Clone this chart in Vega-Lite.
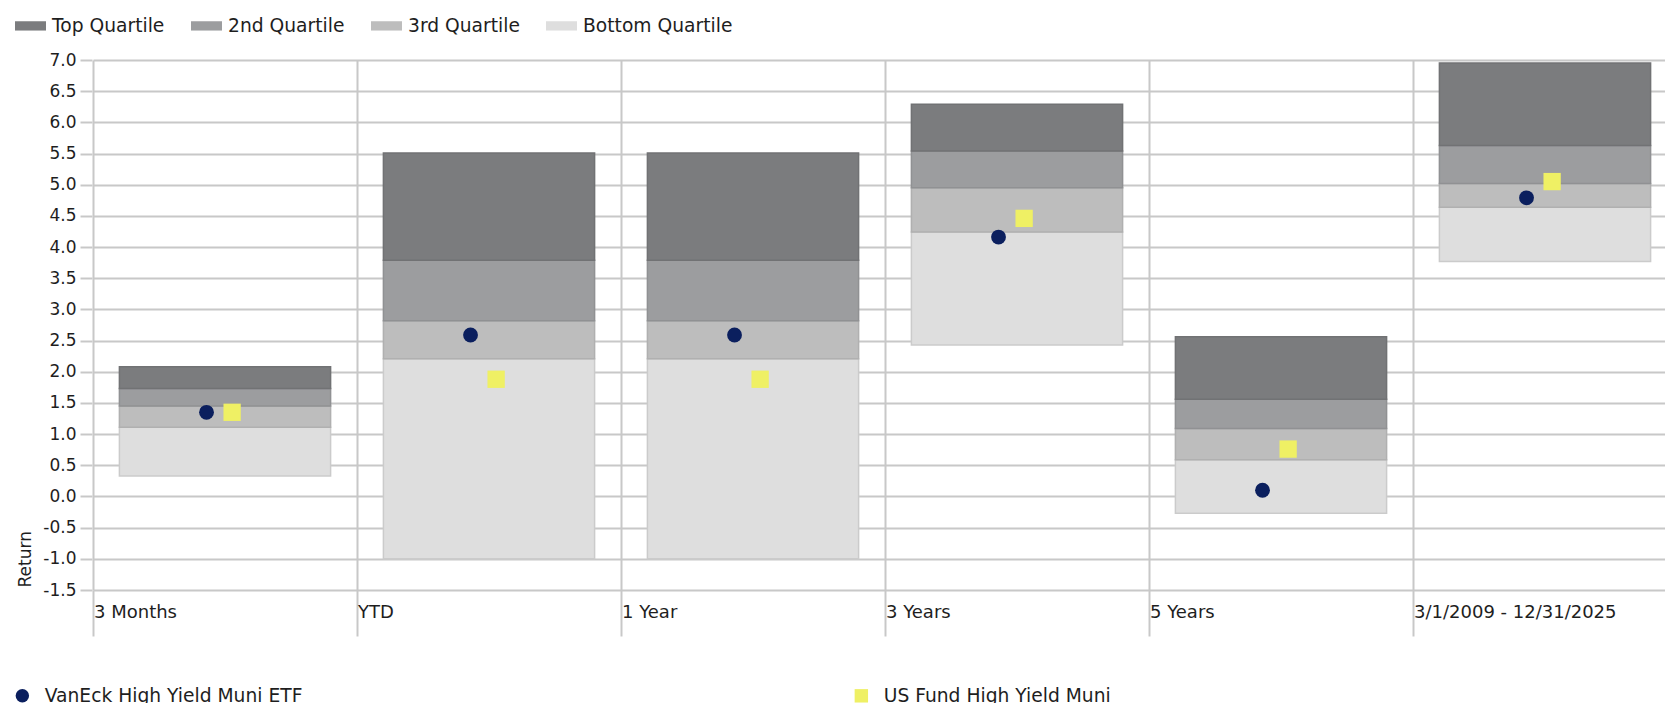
{
  "$schema": "https://vega.github.io/schema/vega-lite/v6.json",
  "width": 1573,
  "height": 530,
  "autosize": {"type": "none"},
  "padding": {"left": 92, "top": 60, "right": 0, "bottom": 113},
  "background": "white",
  "config": {
    "font": "DejaVu Sans",
    "view": {"stroke": null},
    "axis": {"labelFont": "DejaVu Sans", "labelColor": "#1e1e1e", "gridColor": "#c8c8c8", "gridWidth": 2, "tickColor": "#c8c8c8", "tickWidth": 2, "domain": false, "titleFont": "DejaVu Sans", "titleColor": "#1e1e1e", "labelOverlap": false, "labelLimit": 400},
    "axisY": {"labelOverlap": false},
    "legend": {"labelFont": "DejaVu Sans", "labelFontSize": 18.7, "labelColor": "#1e1e1e", "labelLimit": 600}
  },
  "datasets": {
    "quartiles": [
      {"period": "3 Months", "quartile": "Bottom Quartile", "low": 0.33, "high": 1.11},
      {"period": "3 Months", "quartile": "3rd Quartile", "low": 1.11, "high": 1.45},
      {"period": "3 Months", "quartile": "2nd Quartile", "low": 1.45, "high": 1.73},
      {"period": "3 Months", "quartile": "Top Quartile", "low": 1.73, "high": 2.08},
      {"period": "YTD", "quartile": "Bottom Quartile", "low": -1.0, "high": 2.21},
      {"period": "YTD", "quartile": "3rd Quartile", "low": 2.21, "high": 2.82},
      {"period": "YTD", "quartile": "2nd Quartile", "low": 2.82, "high": 3.79},
      {"period": "YTD", "quartile": "Top Quartile", "low": 3.79, "high": 5.51},
      {"period": "1 Year", "quartile": "Bottom Quartile", "low": -1.0, "high": 2.21},
      {"period": "1 Year", "quartile": "3rd Quartile", "low": 2.21, "high": 2.82},
      {"period": "1 Year", "quartile": "2nd Quartile", "low": 2.82, "high": 3.79},
      {"period": "1 Year", "quartile": "Top Quartile", "low": 3.79, "high": 5.51},
      {"period": "3 Years", "quartile": "Bottom Quartile", "low": 2.43, "high": 4.24},
      {"period": "3 Years", "quartile": "3rd Quartile", "low": 4.24, "high": 4.95},
      {"period": "3 Years", "quartile": "2nd Quartile", "low": 4.95, "high": 5.54},
      {"period": "3 Years", "quartile": "Top Quartile", "low": 5.54, "high": 6.29},
      {"period": "5 Years", "quartile": "Bottom Quartile", "low": -0.27, "high": 0.59},
      {"period": "5 Years", "quartile": "3rd Quartile", "low": 0.59, "high": 1.09},
      {"period": "5 Years", "quartile": "2nd Quartile", "low": 1.09, "high": 1.56},
      {"period": "5 Years", "quartile": "Top Quartile", "low": 1.56, "high": 2.56},
      {"period": "3/1/2009 - 12/31/2025", "quartile": "Bottom Quartile", "low": 3.77, "high": 4.64},
      {"period": "3/1/2009 - 12/31/2025", "quartile": "3rd Quartile", "low": 4.64, "high": 5.02},
      {"period": "3/1/2009 - 12/31/2025", "quartile": "2nd Quartile", "low": 5.02, "high": 5.63},
      {"period": "3/1/2009 - 12/31/2025", "quartile": "Top Quartile", "low": 5.63, "high": 6.95}
    ],
    "points": [
      {"period": "3 Months", "series": "VanEck High Yield Muni ETF", "value": 1.35},
      {"period": "YTD", "series": "VanEck High Yield Muni ETF", "value": 2.59},
      {"period": "1 Year", "series": "VanEck High Yield Muni ETF", "value": 2.59},
      {"period": "3 Years", "series": "VanEck High Yield Muni ETF", "value": 4.16},
      {"period": "5 Years", "series": "VanEck High Yield Muni ETF", "value": 0.10},
      {"period": "3/1/2009 - 12/31/2025", "series": "VanEck High Yield Muni ETF", "value": 4.79},
      {"period": "3 Months", "series": "US Fund High Yield Muni", "value": 1.35},
      {"period": "YTD", "series": "US Fund High Yield Muni", "value": 1.88},
      {"period": "1 Year", "series": "US Fund High Yield Muni", "value": 1.88},
      {"period": "3 Years", "series": "US Fund High Yield Muni", "value": 4.46},
      {"period": "5 Years", "series": "US Fund High Yield Muni", "value": 0.76},
      {"period": "3/1/2009 - 12/31/2025", "series": "US Fund High Yield Muni", "value": 5.05}
    ]
  },
  "layer": [
    {
      "data": {"name": "quartiles"},
      "mark": {"type": "bar", "strokeWidth": 1.5, "width": {"band": 0.8}},
      "encoding": {
        "x": {
          "field": "period", "type": "nominal",
          "sort": ["3 Months", "YTD", "1 Year", "3 Years", "5 Years", "3/1/2009 - 12/31/2025"],
          "scale": {"range": [1, 1585], "paddingInner": 0, "paddingOuter": 0},
          "axis": {"title": null, "bandPosition": 0, "labelAlign": "left", "labelBaseline": "middle", "labelPadding": -24, "labelOffset": -131, "tickSize": 46, "labelFontSize": 18, "labelLimit": 400, "grid": true, "labelAngle": 0, "labelOverlap": false, "labelBound": false, "labelFlush": false}
        },
        "y": {
          "field": "low", "type": "quantitative",
          "scale": {"domain": [-1.5, 7], "nice": false, "zero": false},
          "axis": {"title": "Return", "values": [-1.5, -1, -0.5, 0, 0.5, 1, 1.5, 2, 2.5, 3, 3.5, 4, 4.5, 5, 5.5, 6, 6.5, 7], "tickCount": 40, "labelExpr": "replace(format(datum.value, '.1f'), '\u2212', '-')", "tickSize": 12, "labelPadding": 4, "labelFontSize": 17, "labelOverlap": false, "labelFlush": false, "labelBound": false, "labelSeparation": 0, "titleFontSize": 17, "titleFontWeight": "normal", "titleX": -67, "titleY": 527, "titleAngle": 270, "titleAlign": "left", "titleBaseline": "middle", "grid": true}
        },
        "y2": {"field": "high"},
        "fill": {
          "field": "quartile", "type": "nominal",
          "scale": {"domain": ["Top Quartile", "2nd Quartile", "3rd Quartile", "Bottom Quartile"], "range": ["#7b7c7e", "#9c9d9f", "#bdbdbd", "#dedede"]},
          "legend": {"title": null, "orient": "none", "legendX": -77, "legendY": -50, "direction": "horizontal", "symbolType": "M-1,-0.3H1V0.3H-1Z", "symbolSize": 961, "symbolStrokeWidth": 0, "labelOffset": 6, "columnPadding": 26}
        },
        "stroke": {
          "field": "quartile", "type": "nominal",
          "scale": {"domain": ["Top Quartile", "2nd Quartile", "3rd Quartile", "Bottom Quartile"], "range": ["#717274", "#909193", "#b0b0b0", "#cbcbcb"]},
          "legend": null
        }
      }
    },
    {
      "data": {"name": "points"},
      "transform": [{"filter": "datum.series === 'VanEck High Yield Muni ETF'"}],
      "mark": {"type": "point", "filled": true, "opacity": 1, "size": 220},
      "encoding": {
        "x": {"field": "period", "type": "nominal", "sort": ["3 Months", "YTD", "1 Year", "3 Years", "5 Years", "3/1/2009 - 12/31/2025"], "bandPosition": 0.43},
        "y": {"field": "value", "type": "quantitative"},
        "color": {"field": "series", "type": "nominal", "scale": {"domain": ["VanEck High Yield Muni ETF", "US Fund High Yield Muni"], "range": ["#0b1f5e", "#eff064"]}, "legend": {"title": null, "orient": "none", "legendX": -79, "legendY": 626, "direction": "horizontal", "symbolSize": 180, "labelOffset": 13, "columnPadding": 549}},
        "shape": {"field": "series", "type": "nominal", "scale": {"domain": ["VanEck High Yield Muni ETF", "US Fund High Yield Muni"], "range": ["circle", "square"]}}
      }
    },
    {
      "data": {"name": "points"},
      "transform": [{"filter": "datum.series === 'US Fund High Yield Muni'"}],
      "mark": {"type": "point", "filled": true, "opacity": 1, "size": 300},
      "encoding": {
        "x": {"field": "period", "type": "nominal", "sort": ["3 Months", "YTD", "1 Year", "3 Years", "5 Years", "3/1/2009 - 12/31/2025"], "bandPosition": 0.527},
        "y": {"field": "value", "type": "quantitative"},
        "color": {"field": "series", "type": "nominal"},
        "shape": {"field": "series", "type": "nominal"}
      }
    }
  ]
}
